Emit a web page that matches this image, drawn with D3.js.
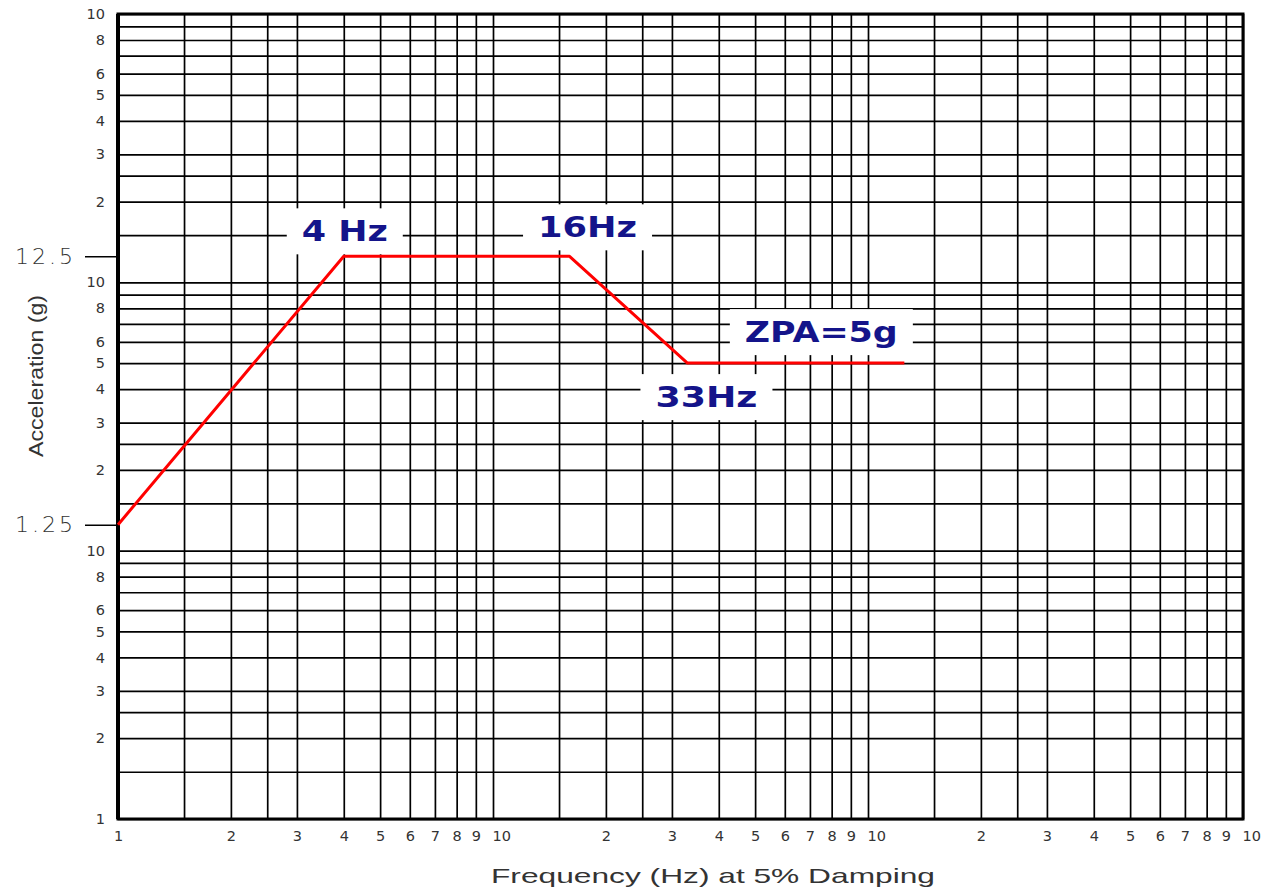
<!DOCTYPE html>
<html>
<head>
<meta charset="utf-8">
<script src="https://cdn.jsdelivr.net/npm/d3@7"></script>
<style>
  body { margin: 0; background: #fff; }
  svg { display: block; }
</style>
</head>
<body>
<div id="wrapper"></div>
<script>
// response spectrum
const freqHz = [1, 4, 16, 33, 125];
const accelG = [1.25, 12.5, 12.5, 5, 5];

// log graph paper
const gridSteps = [1, 1.5, 2, 2.5, 3, 4, 5, 6, 7, 8, 9];
const xDecades = [1, 10, 100];
const yDecades = [0.1, 1, 10];
const xTickDigits = ["2", "3", "4", "5", "6", "7", "8", "9", "10"];
const yTickDigits = ["2", "3", "4", "5", "6", "8", "10"];
const markedLevels = [12.5, 1.25];
const markedLabels = ["12.5", "1.25"];

const noteTexts = ["4 Hz", "16Hz", "33Hz", "ZPA=5g"];
const noteFreq = [4, 16, 33, 125];
const noteAccel = [12.5, 12.5, 5, 5];

function buildPlot() {
    const dimension = {
        width: 1269,
        height: 895,
        margin: { top: 14, left: 118, bottom: 76, right: 26 }
    };
    dimension.boundedWidth = dimension.width - dimension.margin.left - dimension.margin.right;
    dimension.boundedHeight = dimension.height - dimension.margin.top - dimension.margin.bottom;

    const svg = d3.select("#wrapper").append("svg")
        .attr("width", dimension.width)
        .attr("height", dimension.height);

    const bounded = svg.append("g")
        .attr("transform", `translate(${dimension.margin.left},${dimension.margin.top})`);

    const xScaler = d3.scaleLog()
        .domain([1, 1000])
        .range([0, dimension.boundedWidth]);
    const yScaler = d3.scaleLog()
        .domain([0.1, 100])
        .range([dimension.boundedHeight, 0]);

    // grid lines
    const xGrid = xDecades.flatMap(d => gridSteps.map(m => d * m)).concat([1000]);
    const yGrid = yDecades.flatMap(d => gridSteps.map(m => d * m)).concat([100]);

    bounded.append("g")
        .attr("transform", `translate(0,${dimension.boundedHeight})`)
        .call(d3.axisBottom(xScaler).tickValues(xGrid).tickSize(-dimension.boundedHeight).tickFormat(""))
        .call(g => g.select(".domain").remove())
        .call(g => g.selectAll("line").attr("stroke", "#000").attr("stroke-width", 1.7));

    bounded.append("g")
        .call(d3.axisLeft(yScaler).tickValues(yGrid).tickSize(-dimension.boundedWidth).tickFormat(""))
        .call(g => g.select(".domain").remove())
        .call(g => g.selectAll("line").attr("stroke", "#000").attr("stroke-width", 1.7));

    // tick labels
    const xLabelVals = [1].concat(xDecades.flatMap(d => xTickDigits.map(t => d * +t)));
    const xLabelTxt = ["1"].concat(xDecades.flatMap(() => xTickDigits));
    const xAxis = bounded.append("g")
        .attr("transform", `translate(0,${dimension.boundedHeight})`)
        .call(d3.axisBottom(xScaler).tickValues(xLabelVals).tickSize(0).tickPadding(12)
            .tickFormat((d, i) => xLabelTxt[i]));
    xAxis.select(".domain").remove();
    xAxis.selectAll("text")
        .attr("font-family", "DejaVu Sans, sans-serif")
        .attr("font-size", 14.5)
        .attr("fill", "#333")
        .filter(function () { return this.textContent === "10"; })
        .attr("text-anchor", "start")
        .attr("x", -1);

    const yLabelVals = [0.1].concat(yDecades.flatMap(d => yTickDigits.map(t => d * +t)));
    const yLabelTxt = ["1"].concat(yDecades.flatMap(() => yTickDigits));
    const yAxis = bounded.append("g")
        .call(d3.axisLeft(yScaler).tickValues(yLabelVals).tickSize(0).tickPadding(13)
            .tickFormat((d, i) => yLabelTxt[i]));
    yAxis.select(".domain").remove();
    yAxis.selectAll("text")
        .attr("font-family", "DejaVu Sans, sans-serif")
        .attr("font-size", 14.5)
        .attr("fill", "#333");

    // 12.5 / 1.25 marks on the left
    const marks = bounded.append("g")
        .call(d3.axisLeft(yScaler).tickValues(markedLevels).tickSize(33).tickPadding(12)
            .tickFormat((d, i) => markedLabels[i]));
    marks.select(".domain").remove();
    marks.selectAll("line").attr("stroke", "#000").attr("stroke-width", 1.5);
    marks.selectAll("text")
        .attr("font-family", "DejaVu Sans, sans-serif")
        .attr("font-size", 22)
        .attr("font-weight", 300)
        .attr("fill", "#333")
        .attr("textLength", 58)
        .attr("lengthAdjust", "spacing");

    // frame
    bounded.append("rect")
        .attr("width", dimension.boundedWidth)
        .attr("height", dimension.boundedHeight)
        .attr("fill", "none")
        .attr("stroke", "#000")
        .attr("stroke-width", 3);
    bounded.append("line")
        .attr("x1", 0).attr("x2", 0)
        .attr("y1", 0).attr("y2", dimension.boundedHeight)
        .attr("stroke", "#000").attr("stroke-width", 4);

    // notes: white boxes first, then spectrum, then the text
    const noteLayout = [
        { dx: 1, dy: -15, w: 86 },
        { dx: 18, dy: -19, w: 99 },
        { dx: 19, dy: 44, w: 102 },
        { dx: -83, dy: -21, w: 153 }
    ];
    const notePos = noteTexts.map((txt, i) => ({
        txt,
        L: noteLayout[i],
        cx: xScaler(noteFreq[i]) + noteLayout[i].dx,
        by: yScaler(noteAccel[i]) + noteLayout[i].dy
    }));

    bounded.selectAll("rect.note-box")
        .data(notePos)
        .join("rect")
        .attr("class", "note-box")
        .attr("x", d => d.cx - d.L.w / 2 - 15)
        .attr("y", d => d.by - 33)
        .attr("width", d => d.L.w + 30)
        .attr("height", 46)
        .attr("fill", "#fff");

    const lineGenerator = d3.line()
        .x((d, i) => xScaler(freqHz[i]))
        .y((d, i) => yScaler(accelG[i]));
    bounded.append("path")
        .attr("fill", "none")
        .attr("stroke", "#ff0000")
        .attr("stroke-width", 3)
        .attr("stroke-linejoin", "round")
        .attr("d", lineGenerator(freqHz));

    bounded.selectAll("text.note")
        .data(notePos)
        .join("text")
        .attr("class", "note")
        .attr("x", d => d.cx - d.L.w / 2)
        .attr("y", d => d.by)
        .attr("textLength", d => d.L.w)
        .attr("lengthAdjust", "spacingAndGlyphs")
        .attr("font-family", "DejaVu Sans, sans-serif")
        .attr("font-weight", "bold")
        .attr("font-size", 28)
        .attr("fill", "#14148a")
        .text(d => d.txt);

    // axis titles
    svg.append("text")
        .attr("x", 491)
        .attr("y", 883)
        .attr("textLength", 444)
        .attr("lengthAdjust", "spacingAndGlyphs")
        .attr("font-family", "Liberation Sans, Arial, sans-serif")
        .attr("font-size", 21)
        .attr("fill", "#333")
        .text("Frequency (Hz) at 5% Damping");

    svg.append("text")
        .attr("transform", "translate(43,457) rotate(-90)")
        .attr("textLength", 162)
        .attr("lengthAdjust", "spacingAndGlyphs")
        .attr("font-family", "Liberation Sans, Arial, sans-serif")
        .attr("font-size", 21)
        .attr("fill", "#333")
        .text("Acceleration (g)");
}

buildPlot();
</script>
</body>
</html>
